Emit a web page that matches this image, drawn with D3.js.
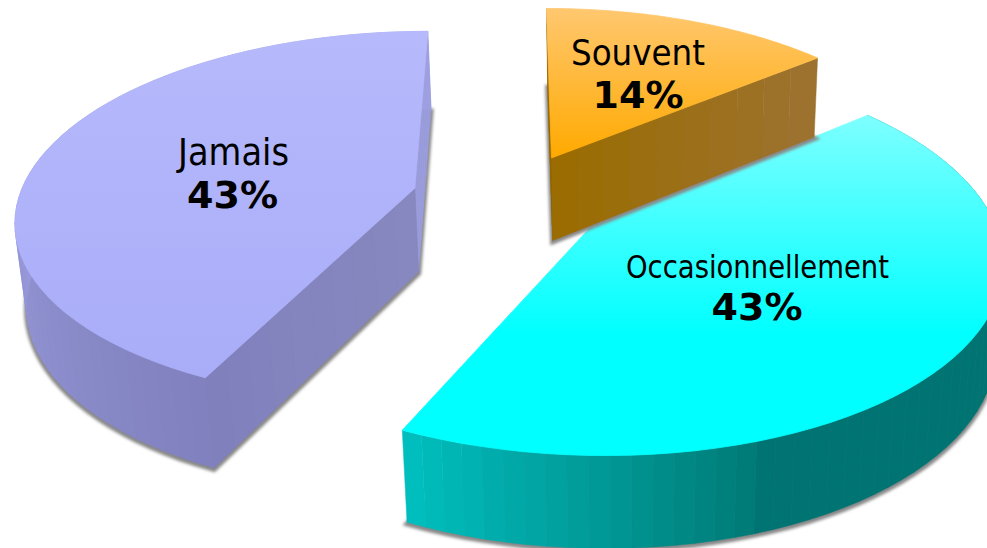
<!DOCTYPE html>
<html>
<head>
<meta charset="utf-8">
<script src="https://cdn.jsdelivr.net/npm/d3@7"></script>
<style>
	html, body { margin: 0; background: #fff; overflow: hidden; }
	svg { display: block; }
	text { font-family: "DejaVu Sans", sans-serif; fill: #000; }
</style>
</head>
<body>
<svg id="svgchart"></svg>
<script>
'use strict'

// clockwise from the top of the pie:
const categories = ["Souvent", "Occasionnellement", "Jamais"]
const values = [14, 43, 43]

const chartWidth = 987,
		  chartHeight = 548

// camera fitted on the reference (pie plane -> screen):
const horizonY = -1000,
		  camX = 513,
		  camScale = 0.3305,
		  depth0 = 0.000813,
		  depthStep = 0.000128,
		  pieCenter = [-0.006, 0.169],
		  explode = 0.25,
		  vanishX = 620,
		  vanishY = 4651

// look of each slice, by category (cut faces go apex -> outer edge, null when hidden):
const styles = {
	Souvent: {
		top: ["#ffc76f", "#ffaa00"], gradY: [9, 158],
		rim: null, cutStart: ["#8a6000", "#9b6c00"], cutEnd: ["#9b6c00", "#9c7230"],
		label: { size: 36, length: 134, x: 638, y: 65 }, pct: { x: 638, y: 108 }
	},
	Occasionnellement: {
		top: ["#7effff", "#00ffff"], gradY: [115, 335],
		rim: t => t < 0.71 ? "#007472" : d3.interpolateRgb("#007874", "#00c0c0")((t - 0.71) / 0.29),
		cutStart: null, cutEnd: null,
		label: { size: 32, length: 263, x: 757.5, y: 278 }, pct: { x: 757, y: 320 }
	},
	Jamais: {
		top: ["#b6b9fb", "#a9adf8"], gradY: [32, 378],
		rim: t => d3.interpolateRgb("#8080bd", "#9d9fe1")(Math.min(1, t / 0.5)),
		cutStart: ["#8888c0", "#8080bd"], cutEnd: ["#9a9ddd", "#9a9ddd"],
		label: { size: 38, length: 111, x: 233.5, y: 165 }, pct: { x: 232.5, y: 208 }
	}
}

const drawOrder = ["Jamais", "Occasionnellement", "Souvent"]

const svg = d3.select("#svgchart")
svg.attr("width", chartWidth).attr("height", chartHeight)

const defs = svg.append("defs")
defs.append("filter").attr("id", "soft")
	.attr("x", "-10%").attr("y", "-10%").attr("width", "120%").attr("height", "120%")
	.append("feGaussianBlur").attr("stdDeviation", 1.6)

// pie plane to screen:
function project(u, v) {
	const w = depth0 + depthStep * (v + pieCenter[1])
	return { x: camX + camScale * (u + pieCenter[0]) / w, y: horizonY + 1 / w }
}

// the same point on the lower face of the slab:
function lower(p) {
	const drop = 77 + 0.035 * p.y
	const t = drop / (vanishY - p.y)
	return { x: p.x + (vanishX - p.x) * t, y: p.y + drop }
}

const path = d3.line().x(d => d.x).y(d => d.y)

const slices = d3.pie().sort(null).value(d => d.value)(
	categories.map((name, i) => ({ name: name, value: values[i] }))
)

drawOrder.forEach(name => {
	const slice = slices.find(d => d.data.name === name)
	const style = styles[name]
	const mid = (slice.startAngle + slice.endAngle) / 2
	const cu = explode * Math.sin(mid),
			  cv = explode * Math.cos(mid)

	const at = a => project(cu + Math.sin(a), cv + Math.cos(a))
	const apex = project(cu, cv)
	const angle = d3.scaleLinear().domain([0, 1]).range([slice.startAngle, slice.endAngle])
	const steps = 60
	const arcPoints = d3.range(steps + 1).map(i => at(angle(i / steps)))

	const g = svg.append("g").attr("class", "slice")

	// blurred outline of the lower face:
	const outline = [lower(apex)].concat(arcPoints.map(lower))
	g.append("path")
		.attr("d", path(outline) + "Z")
		.attr("fill", "#888")
		.attr("stroke", "#888")
		.attr("stroke-width", 5)
		.attr("transform", "translate(0,1.5)")
		.attr("filter", "url(#soft)")

	const band = (points, color) => {
		g.append("path")
			.attr("d", path(points) + "Z")
			.attr("fill", color)
			.attr("stroke", color)
			.attr("stroke-width", 0.5)
	}

	// a cut face, split in bands:
	const cutFace = (edge, range) => {
		if (!range) return
		const bands = 10
		const along = d3.scaleLinear().domain([0, bands])
		const xs = along.copy().range([apex.x, edge.x]),
				  ys = along.copy().range([apex.y, edge.y])
		d3.range(bands).forEach(i => {
			const a = { x: xs(i), y: ys(i) },
					  b = { x: xs(i + 1), y: ys(i + 1) }
			band([a, b, lower(b), lower(a)], d3.interpolateRgb(range[0], range[1])((i + 0.5) / bands))
		})
	}
	const startEdge = at(slice.startAngle),
			  endEdge = at(slice.endAngle)
	if (name === "Souvent") {
		cutFace(startEdge, style.cutStart)
		cutFace(endEdge, style.cutEnd)
	} else {
		cutFace(endEdge, style.cutEnd)
		cutFace(startEdge, style.cutStart)
	}

	// the rim, also in bands:
	if (style.rim) {
		d3.range(steps).forEach(i => {
			const p0 = arcPoints[i],
					  p1 = arcPoints[i + 1]
			band([p0, p1, lower(p1), lower(p0)], style.rim((i + 0.5) / steps))
		})
	}

	// top face with a vertical gradient:
	const gradId = "grad" + slice.index
	const grad = defs.append("linearGradient")
		.attr("id", gradId)
		.attr("gradientUnits", "userSpaceOnUse")
		.attr("x1", 0).attr("x2", 0)
		.attr("y1", style.gradY[0]).attr("y2", style.gradY[1])
	grad.append("stop").attr("offset", 0).attr("stop-color", style.top[0])
	grad.append("stop").attr("offset", 1).attr("stop-color", style.top[1])

	g.append("path")
		.attr("d", path([apex].concat(arcPoints)) + "Z")
		.attr("fill", "url(#" + gradId + ")")
		.attr("stroke", "url(#" + gradId + ")")
		.attr("stroke-width", 0.8)
})

// labels go last so no slice covers them:
slices.forEach(slice => {
	const style = styles[slice.data.name]
	svg.append("text")
		.attr("x", style.label.x)
		.attr("y", style.label.y)
		.attr("text-anchor", "middle")
		.attr("font-size", style.label.size)
		.attr("textLength", style.label.length)
		.attr("lengthAdjust", "spacingAndGlyphs")
		.text(slice.data.name)
	svg.append("text")
		.attr("x", style.pct.x)
		.attr("y", style.pct.y)
		.attr("text-anchor", "middle")
		.attr("font-size", 38)
		.attr("font-weight", "bold")
		.text(slice.data.value + "%")
})
</script>
</body>
</html>
